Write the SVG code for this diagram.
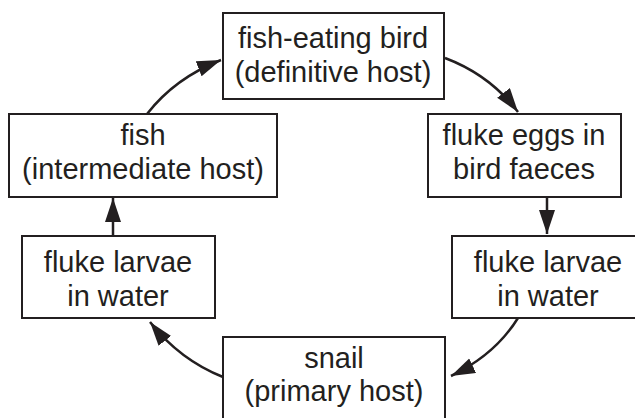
<svg xmlns="http://www.w3.org/2000/svg" width="635" height="418" viewBox="0 0 635 418">
<style>
  rect.box { fill: #ffffff; stroke: #231f20; stroke-width: 2; }
  text { font-family: "Liberation Sans", Arial, sans-serif; font-size: 29px; fill: #231f20; text-anchor: middle; }
  .conn path { fill: none; stroke: #231f20; stroke-width: 2.5; marker-end: url(#ah); }
</style>
<defs>
  <marker id="ah" markerUnits="userSpaceOnUse" markerWidth="26" markerHeight="18" refX="24" refY="8" orient="auto">
    <path d="M0,0 L24,8 L0,16 z" fill="#231f20"/>
  </marker>
</defs>
<rect width="635" height="418" fill="#ffffff"/>
<g id="bird">
  <rect class="box" x="223" y="13" width="221" height="86"/>
  <text x="333" y="48">fish-eating bird</text>
  <text x="333" y="82">(definitive host)</text>
</g>
<g id="eggs">
  <rect class="box" x="428" y="114" width="193" height="83"/>
  <text x="524" y="145">fluke eggs in</text>
  <text x="524" y="179">bird faeces</text>
</g>
<g id="larvae-right">
  <rect class="box" x="452" y="236" width="192" height="82"/>
  <text x="548" y="272">fluke larvae</text>
  <text x="548" y="306">in water</text>
</g>
<g id="snail">
  <rect class="box" x="223" y="337" width="222" height="90"/>
  <text x="334" y="368">snail</text>
  <text x="334" y="401">(primary host)</text>
</g>
<g id="larvae-left">
  <rect class="box" x="22" y="236" width="193" height="82"/>
  <text x="118" y="272">fluke larvae</text>
  <text x="118" y="306">in water</text>
</g>
<g id="fish">
  <rect class="box" x="9" y="114" width="268" height="83"/>
  <text x="143" y="145">fish</text>
  <text x="143" y="179">(intermediate host)</text>
</g>
<g class="conn" id="connectors">
  <path d="M147,114 Q175,78 221,60"/>
  <path d="M445,58 Q490,75 518,112"/>
  <path d="M547,197 L547,234"/>
  <path d="M518,318 Q495,355 451,376"/>
  <path d="M223,377 Q180,360 150,322"/>
  <path d="M113,236 L113,198"/>
</g>
</svg>
